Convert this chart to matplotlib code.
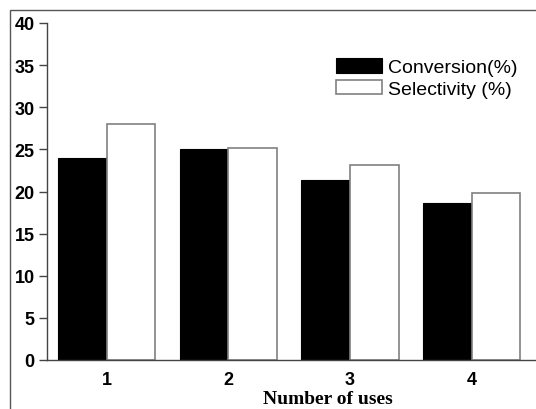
import numpy as np
import matplotlib.pyplot as plt
from matplotlib.patches import Rectangle

# data
uses = [1, 2, 3, 4]
conversion = [24.0, 25.0, 21.4, 18.6]
selectivity = [28.0, 25.2, 23.1, 19.8]
yticks = [0, 5, 10, 15, 20, 25, 30, 35, 40]


def main():
    fig = plt.figure(figsize=(5.36, 4.10), dpi=100)
    ax = fig.add_axes([47 / 536, 49 / 410, 489 / 536, 337 / 410])

    x = np.array(uses, dtype=float)
    w = 0.4
    ax.bar(x - w / 2, conversion, w, color='black', edgecolor='black',
           linewidth=0.8, label='Conversion(%)')
    ax.bar(x + w / 2, selectivity, w, color='white', edgecolor='#808080',
           linewidth=1.2, label='Selectivity (%)')

    ax.set_xlim(0.51, 4.53)
    ax.set_ylim(0, 40)
    ax.set_yticks(yticks)
    ax.set_xticks(uses)

    for s in ['top', 'right']:
        ax.spines[s].set_visible(False)
    for s in ['left', 'bottom']:
        ax.spines[s].set_color('#444444')
        ax.spines[s].set_linewidth(1.0)

    ax.tick_params(axis='y', direction='out', length=5.5, width=1.0,
                   color='#444444', pad=3.5)
    ax.tick_params(axis='x', length=0, pad=8)
    for lab in ax.get_yticklabels() + ax.get_xticklabels():
        lab.set_fontfamily('Liberation Sans')
        lab.set_fontweight('bold')
        lab.set_fontsize(13)

    ax.set_xlabel('Number of uses', fontfamily='Liberation Serif',
                  fontweight='bold', fontsize=14)
    ax.xaxis.set_label_coords((328 - 47) / 489, -0.088)

    ax.legend(loc='upper left', bbox_to_anchor=(0.571, 0.924),
              frameon=False, borderpad=0, handlelength=2.35,
              handleheight=0.75, handletextpad=0.32, labelspacing=0.2,
              prop={'family': 'Liberation Sans', 'size': 14})

    # outer border of the figure panel
    fig.patches.append(Rectangle((10 / 536, -0.1), 1.2, 0.1 + 399 / 410,
                                 transform=fig.transFigure, fill=False,
                                 edgecolor='#555555', linewidth=1.0))

    fig.savefig('out.png', dpi=100)


if __name__ == "__main__":
    main()
